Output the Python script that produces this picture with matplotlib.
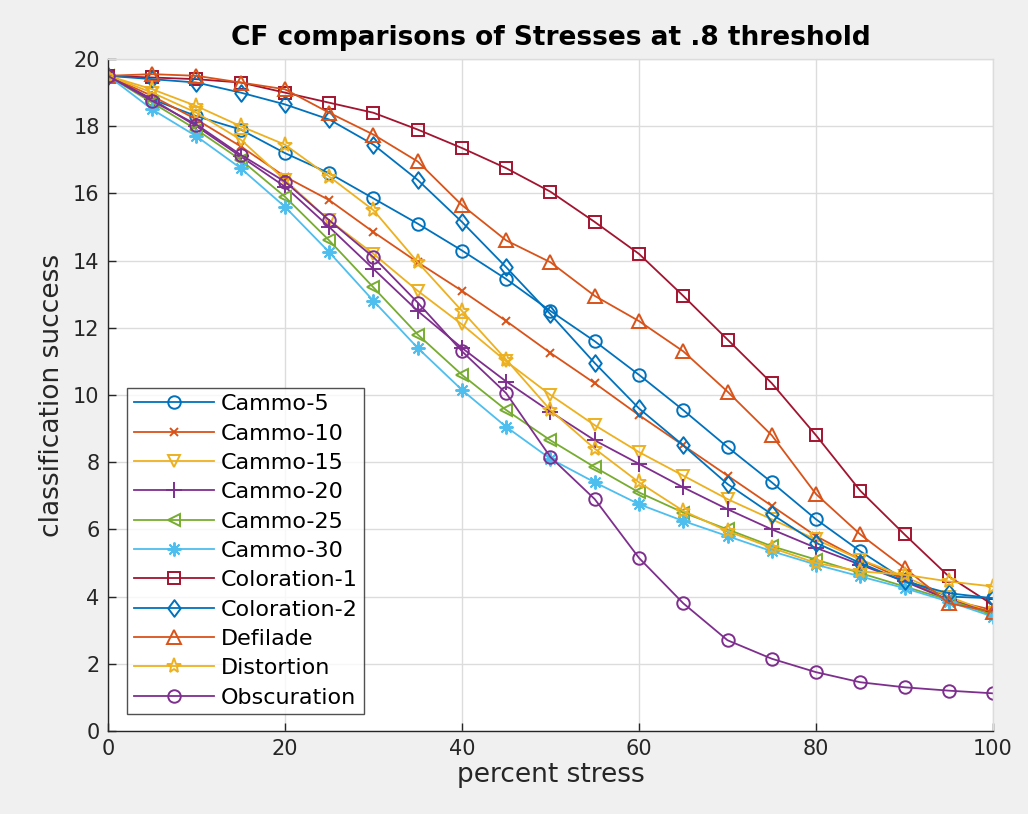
import matplotlib
matplotlib.use("Agg")
import matplotlib.pyplot as plt
from matplotlib.path import Path
import numpy as np

stress = [0, 5, 10, 15, 20, 25, 30, 35, 40, 45, 50, 55, 60, 65, 70, 75, 80, 85, 90, 95, 100]

cammo_5 = [19.5, 18.8, 18.3, 17.9, 17.2, 16.6, 15.85, 15.1, 14.3, 13.45, 12.5, 11.6, 10.6, 9.55, 8.45, 7.4, 6.3, 5.35, 4.5, 4.0, 3.95]
cammo_10 = [19.5, 18.9, 18.2, 17.4, 16.5, 15.8, 14.85, 13.95, 13.1, 12.2, 11.25, 10.35, 9.4, 8.5, 7.6, 6.7, 5.8, 5.1, 4.5, 3.9, 3.6]
cammo_15 = [19.5, 19.0, 18.4, 17.6, 16.4, 15.2, 14.2, 13.1, 12.1, 11.0, 10.0, 9.1, 8.3, 7.6, 6.9, 6.3, 5.7, 5.1, 4.6, 4.0, 3.5]
cammo_20 = [19.5, 18.8, 18.0, 17.1, 16.2, 15.0, 13.75, 12.5, 11.4, 10.4, 9.5, 8.65, 7.95, 7.25, 6.6, 6.0, 5.45, 4.95, 4.45, 3.9, 3.5]
cammo_25 = [19.5, 18.7, 17.9, 17.0, 15.9, 14.6, 13.2, 11.8, 10.6, 9.55, 8.65, 7.85, 7.1, 6.5, 6.0, 5.5, 5.1, 4.7, 4.3, 3.9, 3.45]
cammo_30 = [19.5, 18.5, 17.7, 16.75, 15.6, 14.25, 12.8, 11.4, 10.15, 9.05, 8.1, 7.4, 6.75, 6.25, 5.8, 5.35, 4.95, 4.6, 4.25, 3.85, 3.4]
coloration_1 = [19.5, 19.45, 19.4, 19.3, 19.0, 18.7, 18.4, 17.9, 17.35, 16.75, 16.05, 15.15, 14.2, 12.95, 11.65, 10.35, 8.8, 7.15, 5.85, 4.6, 3.75]
coloration_2 = [19.5, 19.4, 19.3, 19.0, 18.65, 18.2, 17.45, 16.4, 15.15, 13.8, 12.4, 10.95, 9.6, 8.5, 7.35, 6.45, 5.6, 5.0, 4.45, 4.1, 3.95]
defilade = [19.5, 19.55, 19.5, 19.3, 19.1, 18.4, 17.75, 16.95, 15.65, 14.6, 13.95, 12.95, 12.2, 11.3, 10.1, 8.8, 7.05, 5.85, 4.85, 3.8, 3.55]
distortion = [19.5, 19.1, 18.6, 18.0, 17.45, 16.5, 15.5, 13.95, 12.5, 11.05, 9.55, 8.4, 7.4, 6.55, 5.95, 5.45, 5.0, 4.75, 4.65, 4.45, 4.3]
obscuration = [19.5, 18.75, 18.05, 17.15, 16.35, 15.2, 14.1, 12.75, 11.3, 10.05, 8.15, 6.9, 5.15, 3.8, 2.7, 2.15, 1.75, 1.45, 1.3, 1.2, 1.12]

labels = ["Cammo-5", "Cammo-10", "Cammo-15", "Cammo-20", "Cammo-25", "Cammo-30",
          "Coloration-1", "Coloration-2", "Defilade", "Distortion", "Obscuration"]
series = [cammo_5, cammo_10, cammo_15, cammo_20, cammo_25, cammo_30,
          coloration_1, coloration_2, defilade, distortion, obscuration]

# slightly wide diamond outline
diamond = Path([(0, 1), (0.75, 0), (0, -1), (-0.75, 0), (0, 1)],
               [Path.MOVETO, Path.LINETO, Path.LINETO, Path.LINETO, Path.CLOSEPOLY])
# (8, 2, 0) is an eight-spoke asterisk
markers = ["o", "x", "v", "+", "<", (8, 2, 0), "s", diamond, "^", "*", "o"]
colors = ["#0072BD", "#D95319", "#EDB120", "#7E2F8E", "#77AC30", "#4DBEEE",
          "#A2142F", "#0072BD", "#D95319", "#EDB120", "#7E2F8E"]
msizes = [9, 6, 9, 11, 9, 10, 8, 12, 10, 11, 9]

fig = plt.figure(figsize=(10.28, 8.14), dpi=100, facecolor="#f0f0f0")
ax = fig.add_axes([0.105, 0.102, 0.861, 0.8255])
ax.set_facecolor("white")

for y, lab, m, c, ms in zip(series, labels, markers, colors, msizes):
    ax.plot(stress, y, marker=m, color=c, label=lab, linewidth=1.3,
            markersize=ms, markerfacecolor="none", markeredgecolor=c,
            markeredgewidth=1.4)

ax.set_xlim(0, 100)
ax.set_ylim(0, 20)
ax.set_xticks(np.arange(0, 101, 20))
ax.set_yticks(np.arange(0, 21, 2))
ax.grid(True, color="#dcdcdc", linewidth=1.0)
ax.set_axisbelow(True)
ax.tick_params(direction="in", length=6, width=1, labelsize=15, colors="#262626",
               top=False, right=False, pad=6)
for s in ax.spines.values():
    s.set_color("#262626")
    s.set_linewidth(1.0)
ax.spines["top"].set_color("#dcdcdc")
ax.spines["right"].set_color("#dcdcdc")

ax.set_title("CF comparisons of Stresses at .8 threshold", fontsize=19,
             fontweight="bold", pad=10)
ax.set_xlabel("percent stress", fontsize=19, color="#262626", labelpad=2)
ax.set_ylabel("classification success", fontsize=19, color="#262626", labelpad=6)

leg = ax.legend(loc="lower left", bbox_to_anchor=(0.022, 0.025), fontsize=16,
                frameon=True, fancybox=False, edgecolor="#262626",
                handlelength=3.6, handletextpad=0.3, borderpad=0.3,
                labelspacing=0.42, borderaxespad=0)
leg.get_frame().set_linewidth(1.0)

fig.savefig("out.png", dpi=100, facecolor=fig.get_facecolor())
